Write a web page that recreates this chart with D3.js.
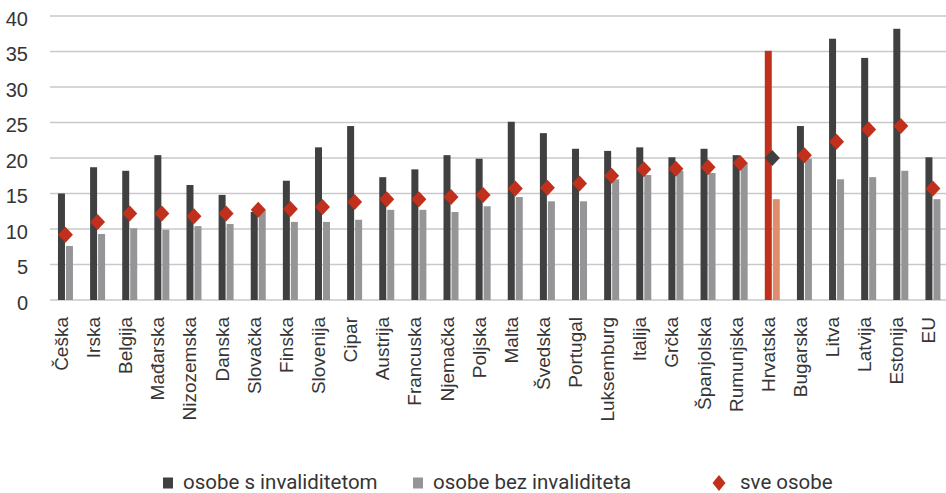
<!DOCTYPE html>
<html>
<head>
<meta charset="utf-8">
<script src="https://cdn.jsdelivr.net/npm/d3@7/dist/d3.min.js"></script>
<style>
html,body{margin:0;padding:0;background:#fff;}
svg{display:block;}
</style>
</head>
<body>
<svg id="chart" width="946" height="493"></svg>
<script>
const categories = ["Češka","Irska","Belgija","Mađarska","Nizozemska","Danska","Slovačka","Finska","Slovenija","Cipar","Austrija","Francuska","Njemačka","Poljska","Malta","Švedska","Portugal","Luksemburg","Italija","Grčka","Španjolska","Rumunjska","Hrvatska","Bugarska","Litva","Latvija","Estonija","EU"];
const withDisability = [15.0,18.7,18.2,20.4,16.2,14.8,12.4,16.8,21.5,24.5,17.3,18.4,20.4,19.9,25.1,23.5,21.3,21.0,21.5,20.1,21.3,20.4,35.1,24.5,36.8,34.1,38.2,20.1];
const withoutDisability = [7.6,9.3,10.1,9.9,10.4,10.7,12.7,11.0,11.0,11.3,12.7,12.7,12.4,13.2,14.5,13.9,13.9,17.0,17.6,18.2,17.9,19.3,14.2,19.9,17.0,17.3,18.2,14.2];
const allPersons = [9.2,11.0,12.2,12.2,11.8,12.2,12.7,12.8,13.1,13.8,14.2,14.2,14.5,14.8,15.7,15.8,16.4,17.5,18.4,18.5,18.7,19.3,20.0,20.4,22.3,24.0,24.5,15.7];
const yTicks = [0,5,10,15,20,25,30,35,40];
const legendLabels = ["osobe s invaliditetom","osobe bez invaliditeta","sve osobe"];
const highlight = "Hrvatska";

const C = {dark:"#404040", gray:"#959598", red:"#c0301c", lightRed:"#e08d6e", grid:"#c9c9c9", text:"#353535"};

const svg = d3.select("#chart");
const x = d3.scaleBand().domain(categories).range([49.4, 949]).padding(0);
const y = d3.scaleLinear().domain([0,40]).range([300,16]);

// gridlines
svg.append("g").selectAll("line").data(yTicks).join("line")
  .attr("x1",50).attr("x2",946)
  .attr("y1",d=>y(d)).attr("y2",d=>y(d))
  .attr("stroke",C.grid).attr("stroke-width",1.5);

// y axis labels
const yAxis = d3.axisLeft(y).tickValues(yTicks).tickSize(0).tickPadding(0);
const gy = svg.append("g").attr("transform","translate(28,3)").call(yAxis);
gy.select(".domain").remove();
gy.selectAll("text").attr("font-family","Liberation Sans, Arial, sans-serif")
  .attr("font-size",20).attr("fill",C.text);

const bw = 7, gap = 1;
const cx = d => x(d) + x.bandwidth()/2;

// bars
svg.append("g").selectAll("rect").data(categories).join("rect")
  .attr("x",(d)=>cx(d)-gap/2-bw)
  .attr("width",bw)
  .attr("y",(d,i)=>y(withDisability[i]))
  .attr("height",(d,i)=>y(0)-y(withDisability[i]))
  .attr("fill",d=>d===highlight?C.red:C.dark);

svg.append("g").selectAll("rect").data(categories).join("rect")
  .attr("x",(d)=>cx(d)+gap/2)
  .attr("width",bw)
  .attr("y",(d,i)=>y(withoutDisability[i]))
  .attr("height",(d,i)=>y(0)-y(withoutDisability[i]))
  .attr("fill",d=>d===highlight?C.lightRed:C.gray);

// diamonds
const diamond = (w,h) => `M0,${-h}L${w},0L0,${h}L${-w},0Z`;
svg.append("g").selectAll("path").data(categories).join("path")
  .attr("d",diamond(7.5,8))
  .attr("transform",(d,i)=>`translate(${cx(d)},${y(allPersons[i])})`)
  .attr("fill",d=>d===highlight?C.dark:C.red);

// x labels
const xAxis = d3.axisBottom(x).tickSize(0).tickPadding(0);
const gx = svg.append("g").call(xAxis);
gx.select(".domain").remove();
gx.selectAll(".tick").attr("transform",d=>`translate(${cx(d)+2.5},317)`);
gx.selectAll("text")
  .attr("transform","rotate(-90)")
  .attr("x",0).attr("y",0).attr("dy",0)
  .attr("text-anchor","end")
  .attr("font-family","Liberation Sans, Arial, sans-serif")
  .attr("font-size",19).attr("fill",C.text);

// legend
const leg = svg.append("g");
const legItems = [
  {label:legendLabels[0], color:C.dark, type:"rect", x:163},
  {label:legendLabels[1], color:C.gray, type:"rect", x:413},
  {label:legendLabels[2], color:C.red, type:"diamond", x:712}
];
const ly = 482;
legItems.forEach(it=>{
  if(it.type==="rect"){
    leg.append("rect").attr("x",it.x).attr("y",ly-4.5).attr("width",10).attr("height",11).attr("fill",it.color);
  } else {
    leg.append("path").attr("d",diamond(6.5,8)).attr("transform",`translate(${it.x+7},${ly+1})`).attr("fill",it.color);
  }
  leg.append("text").attr("x",it.x+(it.type==="rect"?20:28)).attr("y",ly+7)
    .attr("font-family","Roboto, Inter, sans-serif").attr("font-size",20.5).attr("fill",C.text).text(it.label);
});
</script>
</body>
</html>
